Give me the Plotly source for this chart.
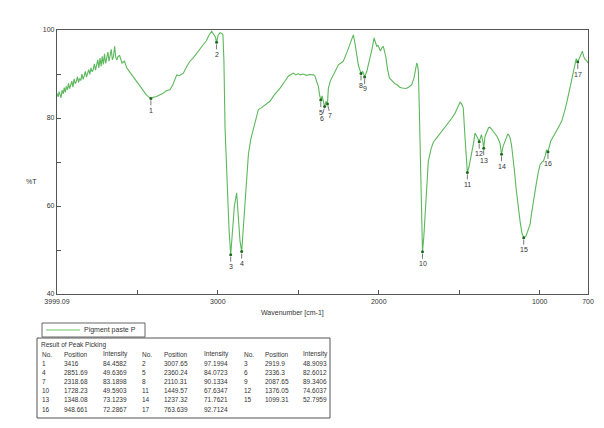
import plotly.graph_objects as go

# ---------------- data ----------------
wavenumber = [
    3999.09, 3992, 3986, 3980, 3974, 3968, 3961, 3954, 3948, 3941,
    3934, 3928, 3921, 3914, 3907, 3900, 3893, 3886, 3879, 3872,
    3865, 3858, 3851, 3844, 3837, 3830, 3823, 3816, 3809, 3802,
    3795, 3788, 3781, 3774, 3767, 3760, 3753, 3746, 3739, 3732,
    3725, 3718, 3711, 3704, 3697, 3690, 3683, 3676, 3669, 3662,
    3655, 3648, 3641, 3634, 3627, 3620,
    3610, 3595, 3580, 3566, 3550, 3535, 3520, 3504, 3490, 3475, 3463, 3445, 3430, 3416,
    3400, 3380, 3359, 3340, 3320, 3297, 3280, 3265, 3255, 3240, 3225, 3214, 3195, 3173,
    3150, 3131, 3110, 3090, 3070, 3055, 3038, 3025, 3015, 3007.65, 2998, 2986, 2975, 2968,
    2962, 2955, 2941, 2930, 2919.9, 2910, 2897, 2883, 2872, 2862, 2851.69, 2842, 2831, 2820,
    2810, 2795, 2779, 2763, 2748, 2730, 2717, 2700, 2676, 2650, 2630, 2613, 2590, 2562,
    2545, 2531, 2515, 2500, 2489, 2470, 2448, 2430, 2406, 2396, 2386, 2375, 2368, 2360.24,
    2352, 2345, 2336.3, 2328, 2318.68, 2313, 2300, 2282, 2265, 2251, 2235, 2220, 2199, 2179,
    2165, 2158, 2148, 2138, 2127, 2118, 2110.31, 2100, 2095, 2087.65, 2075, 2065, 2054, 2040,
    2029, 2020, 2013, 2005, 1997, 1990, 1980, 1972, 1963, 1955, 1945, 1934, 1915, 1900,
    1888, 1870, 1855, 1847, 1830, 1815, 1806, 1795, 1781, 1770, 1764, 1758, 1754, 1748,
    1744, 1738, 1733, 1728.23, 1720, 1712, 1702, 1692, 1675, 1661, 1640, 1625, 1609, 1590,
    1568, 1545, 1526, 1510, 1495, 1485, 1475, 1464, 1455, 1449.57, 1440, 1430, 1422, 1410,
    1402, 1395, 1385, 1376.05, 1370, 1362, 1355, 1348.08, 1340, 1329, 1318, 1309, 1295, 1278,
    1265, 1255, 1247, 1237.32, 1228, 1216, 1205, 1198, 1190, 1184, 1175, 1167, 1157, 1147,
    1135, 1122, 1110, 1099.31, 1085, 1072, 1060, 1050, 1040, 1030, 1019, 1008, 998, 985,
    977, 965, 957, 948.661, 940, 932, 920, 905, 885, 863, 850, 843, 832, 822,
    810, 801, 790, 781, 773, 763.639, 755, 749, 742, 735, 727, 718, 708, 700,
]
transmittance = [
    85.6, 84.8, 86.0, 85.2, 84.6, 86.3, 85.5, 86.9, 85.8, 87.2,
    86.4, 87.9, 86.7, 87.5, 88.4, 87.0, 88.9, 87.8, 88.3, 89.4,
    88.1, 89.0, 88.5, 90.0, 88.8, 89.6, 90.6, 89.3, 90.1, 91.0,
    89.9, 91.4, 90.5, 91.0, 92.3, 90.9, 92.0, 93.2, 91.4, 93.6,
    91.8, 94.0, 92.2, 94.6, 92.4, 93.5, 95.0, 92.9, 94.4, 95.6,
    93.2, 94.0, 96.3, 93.8, 93.2, 94.0,
    94.2, 92.5, 92.9, 91.4, 90.6, 89.8, 89.2, 88.3, 87.6, 86.6, 86.1, 85.3, 84.8, 84.4582,
    84.7, 84.9, 85.3, 85.6, 86.2, 86.4, 87.5, 88.8, 89.8, 89.6, 90.0, 90.2, 91.6, 92.9,
    93.8, 94.8, 95.9, 96.7, 97.6, 98.8, 99.7, 99.0, 98.4, 97.1994, 98.8, 99.4, 99.2, 98.8,
    93.0, 77.7, 62.6, 54.5, 48.9093, 53.5, 60.0, 63.0, 58.0, 52.0, 49.6369, 55.0, 62.6, 67.5,
    71.7, 75.2, 77.7, 80.0, 81.9, 82.3, 82.7, 83.2, 83.8, 85.2, 86.0, 86.8, 88.0, 89.5,
    89.9, 90.2, 89.8, 90.1, 89.8, 90.0, 89.7, 89.9, 89.8, 89.5, 88.3, 87.2, 85.3, 84.0723,
    85.0, 83.5, 82.6012, 83.8, 83.1898, 86.8, 88.5, 89.8, 91.2, 92.1, 92.5, 92.9, 94.8, 96.7,
    97.8, 98.9, 97.0, 94.5, 92.1, 91.0, 90.1334, 90.6, 89.9, 89.3406, 90.5, 92.0, 93.6, 96.0,
    98.2, 96.8, 96.3, 96.5, 95.9, 95.2, 96.0, 96.3, 95.0, 93.6, 91.0, 89.1, 88.4, 87.8,
    87.6, 87.0, 86.8, 86.8, 86.7, 87.0, 87.2, 87.6, 89.1, 91.5, 92.5, 91.8, 90.6, 82.0,
    73.9, 62.0, 55.0, 49.5903, 53.0, 58.0, 64.5, 70.2, 73.0, 74.5, 75.5, 76.2, 77.0, 77.8,
    78.9, 80.0, 81.1, 82.3, 83.6, 83.2, 82.3, 75.5, 70.0, 67.6347, 68.8, 70.5, 71.7, 74.5,
    76.6, 76.2, 75.4, 74.6037, 75.5, 76.2, 75.0, 73.1239, 75.8, 77.0, 77.8, 77.9, 77.2, 76.6,
    75.8, 75.0, 74.3, 71.7621, 73.5, 74.7, 76.0, 76.4, 76.0, 75.5, 73.8, 71.7, 68.0, 64.1,
    60.0, 56.5, 53.8, 52.7959, 53.2, 54.5, 55.8, 58.5, 61.1, 63.5, 65.6, 67.8, 69.4, 70.0,
    70.2, 71.5, 72.8, 72.2867, 73.5, 74.7, 75.5, 76.6, 77.8, 79.3, 80.8, 81.9, 83.5, 85.3,
    87.5, 89.1, 91.0, 92.9, 93.5, 92.7124, 93.5, 93.8, 94.6, 95.2, 94.0, 93.3, 93.0, 92.5,
]
assert len(wavenumber) == len(transmittance)

peak_no = list(range(1, 18))
peak_pos = [3416, 3007.65, 2919.9, 2851.69, 2360.24, 2336.3, 2318.68, 2110.31, 2087.65,
            1728.23, 1449.57, 1376.05, 1348.08, 1237.32, 1099.31, 948.661, 763.639]
peak_int = [84.4582, 97.1994, 48.9093, 49.6369, 84.0723, 82.6012, 83.1898, 90.1334, 89.3406,
            49.5903, 67.6347, 74.6037, 73.1239, 71.7621, 52.7959, 72.2867, 92.7124]

x_tickvals = [3999.09, 3500, 3000, 2500, 2000, 1500, 1000, 700]
x_ticktext = ["3999.09", "", "3000", "", "2000", "", "1000", "700"]
y_tickvals = [40, 50, 60, 70, 80, 90, 100]
y_ticktext = ["40", "", "60", "", "80", "", "100"]

series_name = "Pigment paste P"
table_title = "Result of Peak Picking"
table_headers = ["No.", "Position", "Intensity"]

# ---------------- geometry (reference pixel coords; page body margin is 8px) ----------------
W, H = 604, 428
OFF = 8
L, R, T, B = 57, 588, 30, 294


def px(xp):
    return (xp - L) / (R - L)


def py(yp):
    return (B - yp) / (B - T)


FONT = "Liberation Sans, Arial, sans-serif"
TXT = "#333333"

fig = go.Figure()
fig.add_trace(go.Scatter(
    x=wavenumber, y=transmittance, mode="lines", name=series_name,
    line=dict(color="#5cb85c", width=1.1), showlegend=False,
))
fig.add_trace(go.Scatter(
    x=peak_pos, y=peak_int, mode="markers", showlegend=False,
    marker=dict(color="#1d6b1d", size=3),
))

# small horizontal nudges for crowded peak labels (6 / 7)
label_dx = {6: -3, 7: 3}

annotations = []
for n, xv, yv in zip(peak_no, peak_pos, peak_int):
    annotations.append(dict(
        x=xv, y=yv, xref="x", yref="y", text=str(n), showarrow=True,
        arrowhead=0, arrowwidth=0.8, arrowcolor="#555555", ax=label_dx.get(n, 0), ay=12,
        standoff=2, font=dict(size=7, color=TXT, family=FONT),
    ))


def label(xp, yp, text, anchor="left", size=6.5):
    return dict(x=px(xp), y=py(yp), xref="paper", yref="paper", xanchor=anchor,
                yanchor="middle", text=text, showarrow=False,
                font=dict(size=size, color=TXT, family=FONT))


# axis titles
annotations.append(label(292, 313, "Wavenumber [cm-1]", "center", 7))
annotations.append(label(31, 181, "%T", "center", 7))

# legend (manual)
annotations.append(label(82, 330, series_name, "left", 7))

# peak table
row_y0, row_dy = 354, 9.2
annotations.append(label(39, 344.5, table_title))
col_no = [39.5, 140, 242]
col_pos = [62, 162, 263]
col_int = [101, 202, 301]
for g in range(3):
    for cx, head in zip([col_no[g], col_pos[g], col_int[g]], table_headers):
        annotations.append(label(cx, row_y0, head))
for i, (n, p, v) in enumerate(zip(peak_no, peak_pos, peak_int)):
    r, g = divmod(i, 3)
    yy = row_y0 + row_dy * (r + 1)
    for cx, cell in zip([col_no[g], col_pos[g], col_int[g]], [str(n), f"{p:g}", f"{v:g}"]):
        annotations.append(label(cx, yy, cell))

shapes = [
    # legend box
    dict(type="rect", xref="paper", yref="paper", x0=px(42), x1=px(145), y0=py(323), y1=py(337),
         line=dict(color="#666666", width=1)),
    dict(type="line", xref="paper", yref="paper", x0=px(46), x1=px(80), y0=py(330), y1=py(330),
         line=dict(color="#9ed89e", width=1.5)),
    # table box
    dict(type="rect", xref="paper", yref="paper", x0=px(37), x1=px(330), y0=py(338), y1=py(418),
         line=dict(color="#555555", width=1)),
]

fig.update_layout(
    width=W, height=H,
    margin=dict(l=L - OFF, r=W - (R - OFF), t=T - OFF, b=H - (B - OFF), pad=0),
    paper_bgcolor="white", plot_bgcolor="white",
    font=dict(family=FONT, size=7, color=TXT),
    showlegend=False,
    annotations=annotations,
    shapes=shapes,
    xaxis=dict(
        range=[3999.09, 700], tickvals=x_tickvals, ticktext=x_ticktext,
        ticks="inside", ticklen=4, tickcolor="#555555", showgrid=False, zeroline=False,
        showline=True, linecolor="#555555", linewidth=1.2, mirror=True,
        tickfont=dict(size=7, color=TXT),
    ),
    yaxis=dict(
        range=[40, 100], tickvals=y_tickvals, ticktext=y_ticktext,
        ticks="inside", ticklen=4, tickcolor="#555555", showgrid=False, zeroline=False,
        showline=True, linecolor="#555555", linewidth=1.2, mirror=True,
        tickfont=dict(size=7, color=TXT),
    ),
)

fig.write_html("out.html")
